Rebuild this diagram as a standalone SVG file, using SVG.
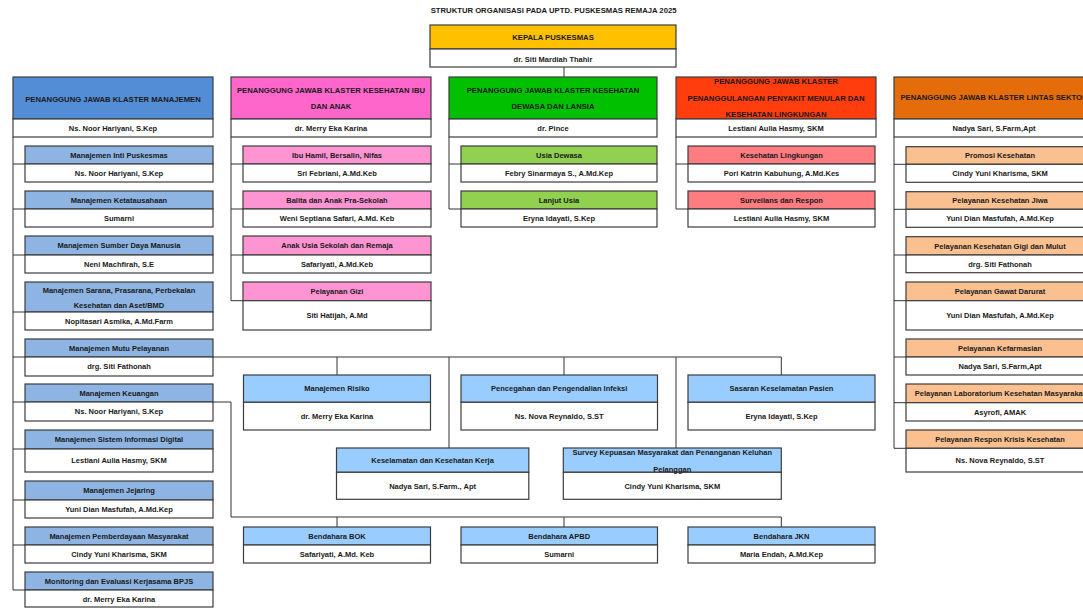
<svg xmlns="http://www.w3.org/2000/svg" width="1083" height="608" viewBox="0 0 1083 608">
<style>
text{font-family:"Liberation Sans",Arial,sans-serif;font-weight:bold;font-size:7.5px;fill:#1a1a1a;text-anchor:middle}
.u{font-size:7.7px}
rect{stroke:#3c3c3c;stroke-width:1.2}
.bg{fill:#fff;stroke:none}
.w{fill:#fff}
.kp{fill:#FFC000}
.mj{fill:#538DD5}.mjs{fill:#8DB4E2}
.ia{fill:#FF66CC}.ias{fill:#FF94D2}
.dl{fill:#00C000}.dls{fill:#92D050}
.pm{fill:#FF3D0D}.pms{fill:#FF7C80}
.ls{fill:#E46C0A}.lss{fill:#FAC090}
.mu{fill:#99CCFF}
#connectors path{fill:none;stroke:#333;stroke-width:1}
</style>
<rect class="bg" width="1083" height="608"/>
<text class="u" x="553.6" y="13.4">STRUKTUR ORGANISASI PADA UPTD. PUSKESMAS REMAJA 2025</text>

<g id="connectors">
<path d="M564,67V77"/>
<path d="M13,137V590M13,164H25M13,209H25M13,255H25M13,312H25M13,357H25M13,402H25M13,449H25M13,500H25M13,545H25M13,590H25"/>
<path d="M231,137V300.7M231,164H243M231,209H243M231,255H243M231,300.7H243"/>
<path d="M449,137V209M449,164H461M449,209H461"/>
<path d="M676,137V209M676,164H688M676,209H688"/>
<path d="M894,137V448.3M894,164.3H906M894,209.3H906M894,255H906M894,300.7H906M894,357H906M894,402.7H906M894,448.3H906"/>
<path d="M213,357H781.3M337,357V375M449,357V448M564,357V375M676,357V448M781.3,357V375"/>
<path d="M213,402H231V517H781.3M337,517V527M564,517V527M781.3,517V527"/>
</g>

<g id="kepala">
<rect class="kp" x="430" y="25" width="246" height="24"/>
<rect class="w" x="430" y="49" width="246" height="18"/>
<text class="u" x="553" y="40.4">KEPALA PUSKESMAS</text>
<text x="553" y="61.7">dr. Siti Mardiah Thahir</text>
</g>

<g id="klaster-manajemen">
<rect class="mj" x="13" y="77" width="200" height="42"/>
<rect class="w" x="13" y="119" width="200" height="18"/>
<text class="u" x="113" y="101.7">PENANGGUNG JAWAB KLASTER MANAJEMEN</text>
<text x="113" y="130.7">Ns. Noor Hariyani, S.Kep</text>
</g>
<g id="klaster-ibu-anak">
<rect class="ia" x="231" y="77" width="200" height="42"/>
<rect class="w" x="231" y="119" width="200" height="18"/>
<text class="u" x="331" y="93">PENANGGUNG JAWAB KLASTER KESEHATAN IBU</text>
<text class="u" x="331" y="109.4">DAN ANAK</text>
<text x="331" y="130.7">dr. Merry Eka Karina</text>
</g>
<g id="klaster-dewasa-lansia">
<rect class="dl" x="449" y="77" width="208" height="42"/>
<rect class="w" x="449" y="119" width="208" height="18"/>
<text class="u" x="553" y="92.7">PENANGGUNG JAWAB KLASTER KESEHATAN</text>
<text class="u" x="553" y="108.7">DEWASA DAN LANSIA</text>
<text x="553" y="130.7">dr. Pince</text>
</g>
<g id="klaster-penyakit-menular">
<rect class="pm" x="676" y="77" width="200" height="42"/>
<rect class="w" x="676" y="119" width="200" height="18"/>
<text class="u" x="776" y="84.4">PENANGGUNG JAWAB KLASTER</text>
<text class="u" x="776" y="101">PENANGGULANGAN PENYAKIT MENULAR DAN</text>
<text class="u" x="776" y="116.7">KESEHATAN LINGKUNGAN</text>
<text x="776" y="130.7">Lestiani Aulia Hasmy, SKM</text>
</g>
<g id="klaster-lintas-sektor">
<rect class="ls" x="894" y="77" width="200" height="42"/>
<rect class="w" x="894" y="119" width="200" height="18"/>
<text class="u" x="994" y="100.4">PENANGGUNG JAWAB KLASTER LINTAS SEKTOR</text>
<text x="994" y="130.7">Nadya Sari, S.Farm,Apt</text>
</g>

<!-- Manajemen sub units -->
<g id="mj-inti"><rect class="mjs" x="25" y="146" width="188" height="18"/><rect class="w" x="25" y="164" width="188" height="18"/>
<text x="119" y="157.7">Manajemen Inti Puskesmas</text><text x="119" y="175.7">Ns. Noor Hariyani, S.Kep</text></g>
<g id="mj-ketatausahaan"><rect class="mjs" x="25" y="191" width="188" height="18"/><rect class="w" x="25" y="209" width="188" height="18"/>
<text x="119" y="202.7">Manajemen Ketatausahaan</text><text x="119" y="220.7">Sumarni</text></g>
<g id="mj-sdm"><rect class="mjs" x="25" y="236" width="188" height="19"/><rect class="w" x="25" y="255" width="188" height="18"/>
<text x="119" y="248.2">Manajemen Sumber Daya Manusia</text><text x="119" y="266.7">Neni Machfirah, S.E</text></g>
<g id="mj-sarana"><rect class="mjs" x="25" y="282" width="188" height="30"/><rect class="w" x="25" y="312" width="188" height="18"/>
<text x="119" y="292.7">Manajemen Sarana, Prasarana, Perbekalan</text><text x="119" y="308">Kesehatan dan Aset/BMD</text><text x="119" y="323.7">Nopitasari Asmika, A.Md.Farm</text></g>
<g id="mj-mutu"><rect class="mjs" x="25" y="339" width="188" height="18"/><rect class="w" x="25" y="357" width="188" height="19"/>
<text x="119" y="350.7">Manajemen Mutu Pelayanan</text><text x="119" y="369.2">drg. Siti Fathonah</text></g>
<g id="mj-keuangan"><rect class="mjs" x="25" y="384" width="188" height="18"/><rect class="w" x="25" y="402" width="188" height="19"/>
<text x="119" y="395.7">Manajemen Keuangan</text><text x="119" y="414.2">Ns. Noor Hariyani, S.Kep</text></g>
<g id="mj-sid"><rect class="mjs" x="25" y="430" width="188" height="19"/><rect class="w" x="25" y="449" width="188" height="23"/>
<text x="119" y="442.2">Manajemen Sistem Informasi Digital</text><text x="119" y="463.2">Lestiani Aulia Hasmy, SKM</text></g>
<g id="mj-jejaring"><rect class="mjs" x="25" y="481" width="188" height="19"/><rect class="w" x="25" y="500" width="188" height="18"/>
<text x="119" y="493.2">Manajemen Jejaring</text><text x="119" y="511.7">Yuni Dian Masfufah, A.Md.Kep</text></g>
<g id="mj-pemberdayaan"><rect class="mjs" x="25" y="527" width="188" height="18"/><rect class="w" x="25" y="545" width="188" height="18"/>
<text x="119" y="538.7">Manajemen Pemberdayaan Masyarakat</text><text x="119" y="556.7">Cindy Yuni Kharisma, SKM</text></g>
<g id="mj-monev"><rect class="mjs" x="25" y="572" width="188" height="18"/><rect class="w" x="25" y="590" width="188" height="17"/>
<text x="119" y="583.7">Monitoring dan Evaluasi Kerjasama BPJS</text><text x="119" y="601.7">dr. Merry Eka Karina</text></g>

<!-- Ibu & Anak -->
<g id="ia-hamil"><rect class="ias" x="243" y="146" width="188" height="18"/><rect class="w" x="243" y="164" width="188" height="18"/>
<text x="337" y="157.7">Ibu Hamil, Bersalin, Nifas</text><text x="337" y="175.7">Sri Febriani, A.Md.Keb</text></g>
<g id="ia-balita"><rect class="ias" x="243" y="191" width="188" height="18"/><rect class="w" x="243" y="209" width="188" height="18"/>
<text x="337" y="202.7">Balita dan Anak Pra-Sekolah</text><text x="337" y="220.7">Weni Septiana Safari, A.Md. Keb</text></g>
<g id="ia-remaja"><rect class="ias" x="243" y="236" width="188" height="19"/><rect class="w" x="243" y="255" width="188" height="18"/>
<text x="337" y="248.2">Anak Usia Sekolah dan Remaja</text><text x="337" y="266.7">Safariyati, A.Md.Keb</text></g>
<g id="ia-gizi"><rect class="ias" x="243" y="282" width="188" height="18.7"/><rect class="w" x="243" y="300.7" width="188" height="29.3"/>
<text x="337" y="294">Pelayanan Gizi</text><text x="337" y="318">Siti Hatijah, A.Md</text></g>

<!-- Dewasa & Lansia -->
<g id="dl-dewasa"><rect class="dls" x="461" y="146" width="196" height="18"/><rect class="w" x="461" y="164" width="196" height="18"/>
<text x="559" y="157.7">Usia Dewasa</text><text x="559" y="175.7">Febry Sinarmaya S., A.Md.Kep</text></g>
<g id="dl-lansia"><rect class="dls" x="461" y="191" width="196" height="18"/><rect class="w" x="461" y="209" width="196" height="18"/>
<text x="559" y="202.7">Lanjut Usia</text><text x="559" y="220.7">Eryna Idayati, S.Kep</text></g>

<!-- Penyakit menular -->
<g id="pm-kesling"><rect class="pms" x="688" y="146" width="187" height="18"/><rect class="w" x="688" y="164" width="187" height="18"/>
<text x="781.5" y="157.7">Kesehatan Lingkungan</text><text x="781.5" y="175.7">Pori Katrin Kabuhung, A.Md.Kes</text></g>
<g id="pm-surveilans"><rect class="pms" x="688" y="191" width="187" height="18"/><rect class="w" x="688" y="209" width="187" height="18"/>
<text x="781.5" y="202.7">Surveilans dan Respon</text><text x="781.5" y="220.7">Lestiani Aulia Hasmy, SKM</text></g>

<!-- Lintas sektor -->
<g id="ls-promkes"><rect class="lss" x="906" y="146.7" width="188" height="17.6"/><rect class="w" x="906" y="164.3" width="188" height="18"/>
<text x="1000" y="158.2">Promosi Kesehatan</text><text x="1000" y="176">Cindy Yuni Kharisma, SKM</text></g>
<g id="ls-jiwa"><rect class="lss" x="906" y="191.7" width="188" height="17.6"/><rect class="w" x="906" y="209.3" width="188" height="18"/>
<text x="1000" y="203.2">Pelayanan Kesehatan Jiwa</text><text x="1000" y="221">Yuni Dian Masfufah, A.Md.Kep</text></g>
<g id="ls-gigi"><rect class="lss" x="906" y="236.7" width="188" height="18.3"/><rect class="w" x="906" y="255" width="188" height="17.7"/>
<text x="1000" y="248.5">Pelayanan Kesehatan Gigi dan Mulut</text><text x="1000" y="266.5">drg. Siti Fathonah</text></g>
<g id="ls-gawat"><rect class="lss" x="906" y="282" width="188" height="18.7"/><rect class="w" x="906" y="300.7" width="188" height="29.3"/>
<text x="1000" y="294">Pelayanan Gawat Darurat</text><text x="1000" y="318">Yuni Dian Masfufah, A.Md.Kep</text></g>
<g id="ls-farmasi"><rect class="lss" x="906" y="339" width="188" height="18"/><rect class="w" x="906" y="357" width="188" height="18"/>
<text x="1000" y="350.7">Pelayanan Kefarmasian</text><text x="1000" y="368.7">Nadya Sari, S.Farm,Apt</text></g>
<g id="ls-lab"><rect class="lss" x="906" y="384" width="188" height="18.7"/><rect class="w" x="906" y="402.7" width="188" height="18.3"/>
<text x="1000" y="396">Pelayanan Laboratorium Kesehatan Masyarakat</text><text x="1000" y="414.5">Asyrofi, AMAK</text></g>
<g id="ls-krisis"><rect class="lss" x="906" y="430" width="188" height="18.3"/><rect class="w" x="906" y="448.3" width="188" height="23.7"/>
<text x="1000" y="441.9">Pelayanan Respon Krisis Kesehatan</text><text x="1000" y="462.9">Ns. Nova Reynaldo, S.ST</text></g>

<!-- Mutu units -->
<g id="mu-risiko"><rect class="mu" x="243.5" y="375" width="187" height="27.3"/><rect class="w" x="243.5" y="402.3" width="187" height="27.7"/>
<text x="337" y="391.4">Manajemen Risiko</text><text x="337" y="418.9">dr. Merry Eka Karina</text></g>
<g id="mu-ppi"><rect class="mu" x="461" y="375" width="196.5" height="27.3"/><rect class="w" x="461" y="402.3" width="196.5" height="27.7"/>
<text x="559.2" y="391.4">Pencegahan dan Pengendalian Infeksi</text><text x="559.2" y="418.9">Ns. Nova Reynaldo, S.ST</text></g>
<g id="mu-skp"><rect class="mu" x="688" y="375" width="187" height="27.3"/><rect class="w" x="688" y="402.3" width="187" height="27.7"/>
<text x="781.5" y="391.4">Sasaran Keselamatan Pasien</text><text x="781.5" y="418.9">Eryna Idayati, S.Kep</text></g>
<g id="mu-k3"><rect class="mu" x="336.5" y="448" width="192.3" height="24.3"/><rect class="w" x="336.5" y="472.3" width="192.3" height="27"/>
<text x="432.6" y="462.7">Keselamatan dan Kesehatan Kerja</text><text x="432.6" y="488.5">Nadya Sari, S.Farm., Apt</text></g>
<g id="mu-survey"><rect class="mu" x="563.3" y="448" width="218" height="24.3"/><rect class="w" x="563.3" y="472.3" width="218" height="27"/>
<text x="672.3" y="455">Survey Kepuasan Masyarakat dan Penanganan Keluhan</text><text x="672.3" y="471.7">Pelanggan</text><text x="672.3" y="488.5">Cindy Yuni Kharisma, SKM</text></g>

<!-- Bendahara -->
<g id="bendahara-bok"><rect class="mu" x="243.5" y="527" width="187" height="18"/><rect class="w" x="243.5" y="545" width="187" height="18"/>
<text x="337" y="538.7">Bendahara BOK</text><text x="337" y="556.7">Safariyati, A.Md. Keb</text></g>
<g id="bendahara-apbd"><rect class="mu" x="461" y="527" width="196.5" height="18"/><rect class="w" x="461" y="545" width="196.5" height="18"/>
<text x="559.2" y="538.7">Bendahara APBD</text><text x="559.2" y="556.7">Sumarni</text></g>
<g id="bendahara-jkn"><rect class="mu" x="688" y="527" width="187" height="18"/><rect class="w" x="688" y="545" width="187" height="18"/>
<text x="781.5" y="538.7">Bendahara JKN</text><text x="781.5" y="556.7">Maria Endah, A.Md.Kep</text></g>
</svg>
